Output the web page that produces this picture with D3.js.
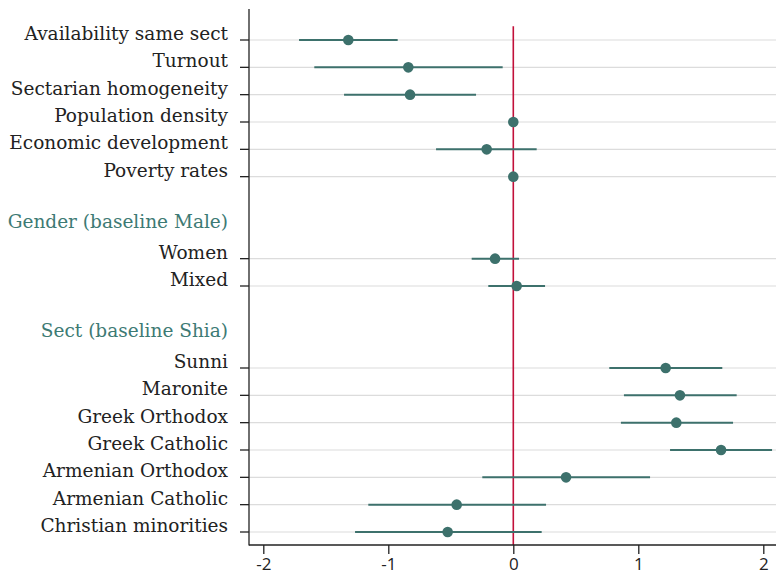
<!DOCTYPE html>
<html>
<head>
<meta charset="utf-8">
<script src="https://cdn.jsdelivr.net/npm/d3@7"></script>
<style>
  html, body { margin: 0; padding: 0; background: #fff; }
  svg { display: block; }
</style>
</head>
<body>
<div id="chart"></div>
<script>
// ---- data ----
const labels = [
  "Availability same sect", "Turnout", "Sectarian homogeneity", "Population density",
  "Economic development", "Poverty rates",
  "Women", "Mixed",
  "Sunni", "Maronite", "Greek Orthodox", "Greek Catholic",
  "Armenian Orthodox", "Armenian Catholic", "Christian minorities"
];
const rowIndex = [0, 1, 2, 3, 4, 5, 8, 9, 12, 13, 14, 15, 16, 17, 18];
const estimates = [-1.32, -0.84, -0.826, 0.0, -0.213, 0.0, -0.146, 0.027, 1.219, 1.333, 1.304, 1.662, 0.422, -0.453, -0.525];
const ciLow     = [-1.714, -1.592, -1.354, -0.005, -0.618, -0.005, -0.333, -0.2, 0.768, 0.885, 0.861, 1.254, -0.248, -1.16, -1.266];
const ciHigh    = [-0.925, -0.085, -0.298, 0.005, 0.187, 0.005, 0.046, 0.254, 1.672, 1.787, 1.758, 2.07, 1.094, 0.262, 0.227];
const headers = ["Gender (baseline Male)", "Sect (baseline Shia)"];
const headerNextRow = [8, 12];
const xTicks = [-2, -1, 0, 1, 2];

// ---- layout ----
const W = 776, H = 577;
const axisX = 249, axisTop = 9, axisBottom = 545, rightEdge = 776;
const x = d3.scaleLinear().domain([-2, 2]).range([263.3, 763.3]);
const y = d3.scaleLinear().domain([0, 18]).range([40, 532]);
const teal = "#3d716c", red = "#c2103a";

const svg = d3.select("#chart").append("svg").attr("width", W).attr("height", H);

const rows = labels.map((l, i) => ({ label: l, r: rowIndex[i], est: estimates[i], lo: ciLow[i], hi: ciHigh[i] }));

// gridlines
svg.append("g").selectAll("line").data(rows).join("line")
  .attr("x1", axisX).attr("x2", rightEdge)
  .attr("y1", d => y(d.r)).attr("y2", d => y(d.r))
  .attr("stroke", "#dcdcdc").attr("stroke-width", 1.2);

// reference line at 0
svg.append("line")
  .attr("x1", x(0)).attr("x2", x(0))
  .attr("y1", y(-0.5)).attr("y2", axisBottom)
  .attr("stroke", red).attr("stroke-width", 1.6);

// CI lines
svg.append("g").selectAll("line").data(rows).join("line")
  .attr("x1", d => x(d.lo)).attr("x2", d => x(d.hi))
  .attr("y1", d => y(d.r)).attr("y2", d => y(d.r))
  .attr("stroke", teal).attr("stroke-width", 2);

// points
svg.append("g").selectAll("circle").data(rows).join("circle")
  .attr("cx", d => x(d.est)).attr("cy", d => y(d.r)).attr("r", 5.3)
  .attr("fill", teal);

// y axis line and ticks
svg.append("line").attr("x1", axisX).attr("x2", axisX).attr("y1", axisTop).attr("y2", axisBottom + 0.5)
  .attr("stroke", "#222").attr("stroke-width", 1.3);
svg.append("g").selectAll("line").data(rows).join("line")
  .attr("x1", axisX - 9).attr("x2", axisX)
  .attr("y1", d => y(d.r)).attr("y2", d => y(d.r))
  .attr("stroke", "#222").attr("stroke-width", 1.3);

// y labels
const labelFont = "'DejaVu Serif', serif";
svg.append("g").selectAll("text").data(rows).join("text")
  .attr("x", 228).attr("y", d => y(d.r))
  .attr("text-anchor", "end")
  .attr("font-family", labelFont).attr("font-size", 18.5)
  .attr("fill", "#222")
  .text(d => d.label);

// headers
svg.append("g").selectAll("text").data(headers).join("text")
  .attr("x", 228).attr("y", (d, i) => y(headerNextRow[i] - 1.13))
  .attr("text-anchor", "end")
  .attr("font-family", labelFont).attr("font-size", 18.5)
  .attr("fill", "#3d7a74")
  .text(d => d);

// x axis
const xAxis = d3.axisBottom(x).tickValues(xTicks).tickSize(9).tickPadding(4)
  .tickFormat(d => d3.format("d")(d).replace("−", "-"));
const gx = svg.append("g").attr("transform", `translate(0,${axisBottom})`).call(xAxis);
gx.select(".domain").remove();
gx.selectAll(".tick line").attr("stroke", "#222").attr("stroke-width", 1.3);
gx.selectAll(".tick text").attr("font-family", "'Open Sans', sans-serif").attr("font-size", 17).attr("fill", "#222");
svg.append("line").attr("x1", axisX).attr("x2", rightEdge).attr("y1", axisBottom).attr("y2", axisBottom)
  .attr("stroke", "#222").attr("stroke-width", 1.3);
</script>
</body>
</html>
